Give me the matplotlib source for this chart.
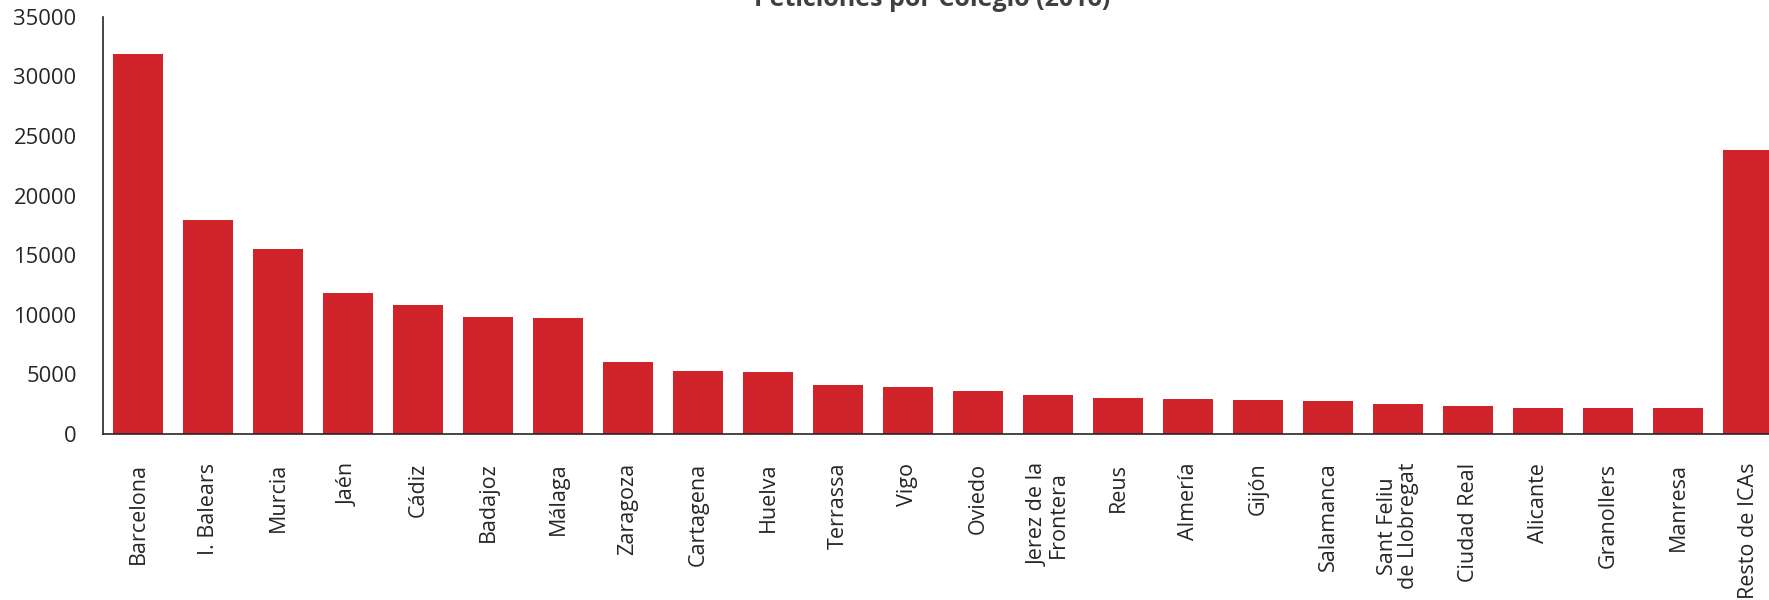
import numpy as np
import matplotlib
matplotlib.use('Agg')
import matplotlib.pyplot as plt

colegios = ['Barcelona', 'I. Balears', 'Murcia', 'Jaén', 'Cádiz', 'Badajoz',
            'Málaga', 'Zaragoza', 'Cartagena', 'Huelva', 'Terrassa', 'Vigo',
            'Oviedo', 'Jerez de la\nFrontera', 'Reus', 'Almería', 'Gijón',
            'Salamanca', 'Sant Feliu\nde Llobregat', 'Ciudad Real', 'Alicante',
            'Granollers', 'Manresa', 'Resto de ICAs']
peticiones = [31900, 17900, 15500, 11800, 10800, 9800,
              9700, 6000, 5250, 5150, 4070, 3900,
              3560, 3220, 2970, 2890, 2800,
              2720, 2470, 2300, 2130,
              2130, 2130, 23800]
yticks = [0, 5000, 10000, 15000, 20000, 25000, 30000, 35000]

plt.rcParams['font.family'] = ['Open Sans', 'DejaVu Sans']

fig = plt.figure(figsize=(17.69, 6), dpi=100)
ax = fig.add_axes([103 / 1769, 1 - 433.5 / 600, 1 - 103 / 1769, 416.5 / 600])

x = np.arange(len(colegios))
ax.bar(x, peticiones, width=0.714, color='#D1232A', zorder=2)

ax.set_xlim(-0.5, 23.3)
ax.set_ylim(0, 35000)
ax.set_yticks(yticks)
ax.set_yticklabels([str(v) for v in yticks], fontsize=15.8, color='#262626')
ax.set_xticks(x)
ax.set_xticklabels(colegios, rotation=90, fontsize=15.5, color='#262626',
                   ha='center', va='top', multialignment='center',
                   linespacing=0.95)
ax.tick_params(axis='both', length=0)
ax.tick_params(axis='y', pad=19)
ax.tick_params(axis='x', pad=21)

for s in ['top', 'right']:
    ax.spines[s].set_visible(False)
for s in ['left', 'bottom']:
    ax.spines[s].set_color('#262626')
    ax.spines[s].set_linewidth(1.2)

fig.text(0.527, 1 - 6 / 600, 'Peticiones por Colegio (2016)', ha='center',
         va='baseline', fontsize=18, fontweight='bold', color='#404040')

fig.savefig('out.png', dpi=100)
